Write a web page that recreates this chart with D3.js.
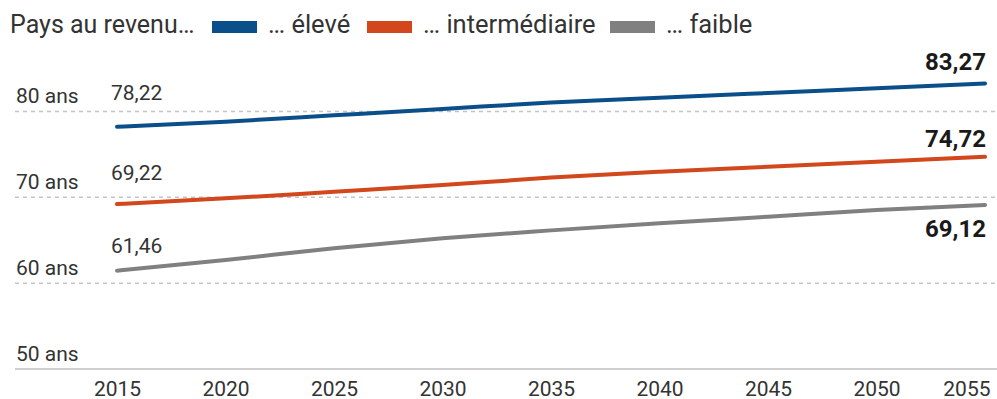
<!DOCTYPE html>
<html><head><meta charset="utf-8">
<script src="https://cdn.jsdelivr.net/npm/d3@7"></script>
<style>body{margin:0;background:#fff;font-family:Roboto,sans-serif}</style>
</head><body><svg id="c" width="997" height="399"></svg>
<script>
const years = [2015,2020,2025,2030,2035,2040,2045,2050,2055];
const eleve = [78.22,78.82,79.55,80.29,81.05,81.61,82.16,82.7,83.27];
const intermediaire = [69.22,69.88,70.65,71.43,72.3,72.98,73.56,74.14,74.72];
const faible = [61.46,62.7,64.07,65.23,66.15,66.98,67.74,68.52,69.12];
const yTicks = [50,60,70,80];
const yTickLabels = ["50 ans","60 ans","70 ans","80 ans"];
const seriesNames = ["… élevé","… intermédiaire","… faible"];
const legendTitle = "Pays au revenu…";
const colors = ["#0b4f8a","#d2471c","#808080"];

const svg = d3.select("#c");
const x = d3.scaleLinear().domain([2015,2055]).range([117,985]);
const y = d3.scaleLinear().domain([50,80]).range([369,111.5]);

// gridlines
yTicks.filter(t=>t>50).forEach(t=>{
  svg.append("line").attr("x1",15).attr("x2",997).attr("y1",y(t)).attr("y2",y(t))
    .attr("stroke","#c4c4c4").attr("stroke-width",1.5).attr("stroke-dasharray","4,4");
});
// baseline
svg.append("line").attr("x1",15).attr("x2",997).attr("y1",y(50)).attr("y2",y(50))
  .attr("stroke","#cfcfcf").attr("stroke-width",2);
// y labels
yTicks.forEach((t,i)=>{
  svg.append("text").attr("x",16).attr("y",y(t)-8.5).text(yTickLabels[i])
    .attr("font-size",21).attr("fill","#333");
});
// x axis
const xAxis = d3.axisBottom(x).tickValues(years).tickSize(0).tickFormat(d3.format("d"));
const gx = svg.append("g").attr("transform",`translate(0,${y(50)})`).call(xAxis);
gx.select(".domain").remove();
gx.selectAll("text").attr("font-family","Roboto").attr("font-size",21)
  .attr("fill","#333").attr("dy",0).attr("y",27);
gx.selectAll(".tick").filter(d=>d===years[years.length-1]).select("text")
  .attr("text-anchor","end").attr("x",5);

const data = [eleve,intermediaire,faible];
const line = d3.line().x((d,i)=>x(years[i])).y(d=>y(d)).curve(d3.curveMonotoneX);
data.forEach((s,k)=>{
  svg.append("path").attr("d",line(s)).attr("fill","none").attr("stroke",colors[k])
    .attr("stroke-width",4).attr("stroke-linecap","round");
});
const fmt = v=>v.toFixed(2).replace(".",",");
// start labels
const startOff = [-27,-24,-17.5];
data.forEach((s,k)=>{
  svg.append("text").attr("x",x(years[0])-6).attr("y",y(s[0])+startOff[k]).text(fmt(s[0]))
    .attr("font-size",21).attr("fill","#333");
});
// end labels
const endOff = [-13,-9.5,+32];
data.forEach((s,k)=>{
  svg.append("text").attr("x",x(years[years.length-1])+1).attr("y",y(s[s.length-1])+endOff[k])
    .attr("text-anchor","end").text(fmt(s[s.length-1]))
    .attr("font-size",24).attr("font-weight","bold").attr("fill","#1a1a1a");
});
// legend
const lg = svg.append("g");
lg.append("text").attr("x",10).attr("y",32.5).text(legendTitle).attr("font-size",25).attr("fill","#333");
const lx = [212,367,610];
seriesNames.forEach((n,k)=>{
  lg.append("rect").attr("x",lx[k]).attr("y",21).attr("width",45).attr("height",12).attr("fill",colors[k]);
  lg.append("text").attr("x",lx[k]+56).attr("y",32.5).text(n).attr("font-size",25.5).attr("fill","#333");
});
</script></body></html>
